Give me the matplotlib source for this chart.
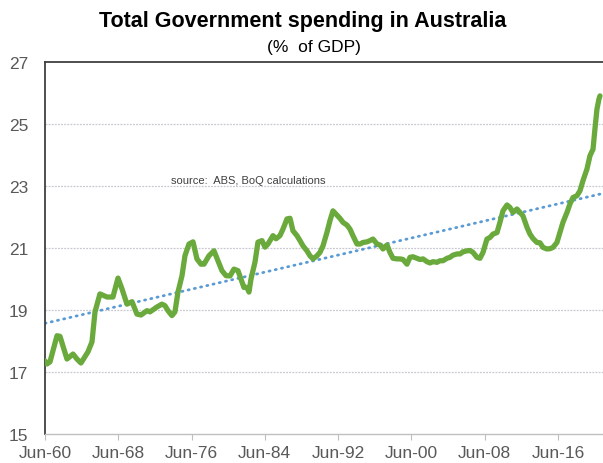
import matplotlib
matplotlib.use("Agg")
import matplotlib.pyplot as plt
import numpy as np

# Decimal year of each reading and total government spending (% of GDP)
years = [1960.50, 1960.72, 1961.05, 1961.81, 1962.14, 1962.90, 1963.56, 1963.99,
         1964.43, 1965.19, 1965.63, 1965.96, 1966.50, 1967.27, 1967.92, 1968.47,
         1968.91, 1969.45, 1970.00, 1970.54, 1970.98, 1971.64, 1971.96, 1972.73,
         1973.27, 1973.60, 1973.93, 1974.36, 1974.69, 1975.02, 1975.46, 1975.78,
         1976.22, 1976.66, 1977.09, 1977.53, 1977.86, 1978.40, 1978.95, 1979.39,
         1979.82, 1980.26, 1980.70, 1981.13, 1981.57, 1981.90, 1982.22, 1982.55,
         1982.77, 1982.99, 1983.43, 1983.75, 1984.19, 1984.52, 1984.84, 1985.39,
         1985.72, 1986.15, 1986.48, 1986.92, 1987.25, 1987.57, 1988.01, 1988.34,
         1988.67, 1989.10, 1989.43, 1989.76, 1990.19, 1990.52, 1990.85, 1991.29,
         1991.61, 1991.94, 1992.38, 1992.70, 1993.03, 1993.47, 1993.80, 1994.12,
         1994.56, 1994.89, 1995.22, 1995.65, 1995.98, 1996.31, 1996.75, 1997.07,
         1997.40, 1997.84, 1998.16, 1998.49, 1998.93, 1999.26, 1999.58, 2000.02,
         2000.35, 2000.67, 2001.11, 2001.44, 2001.77, 2002.20, 2002.53, 2002.86,
         2003.29, 2003.62, 2003.95, 2004.39, 2004.71, 2005.04, 2005.48, 2005.81,
         2006.14, 2006.57, 2006.90, 2007.23, 2007.66, 2007.99, 2008.32, 2008.75,
         2009.08, 2009.41, 2009.85, 2010.17, 2010.50, 2010.94, 2011.26, 2011.59,
         2012.03, 2012.36, 2012.68, 2013.12, 2013.45, 2013.77, 2014.21, 2014.54,
         2014.87, 2015.30, 2015.63, 2015.96, 2016.39, 2016.72, 2017.05, 2017.49,
         2017.81, 2018.14, 2018.58, 2018.91, 2019.23, 2019.67, 2020.00, 2020.33,
         2020.54, 2020.76, 2020.98, 2021.09]
spending = [17.36, 17.26, 17.33, 18.17, 18.15, 17.42, 17.58, 17.42,
            17.29, 17.65, 17.97, 18.94, 19.52, 19.42, 19.42, 20.03,
            19.68, 19.19, 19.27, 18.87, 18.84, 18.98, 18.94, 19.10,
            19.19, 19.14, 18.98, 18.82, 18.94, 19.58, 20.11, 20.75,
            21.13, 21.20, 20.65, 20.48, 20.48, 20.75, 20.91, 20.59,
            20.27, 20.11, 20.10, 20.32, 20.27, 20.00, 19.73, 19.73,
            19.58, 20.00, 20.55, 21.19, 21.24, 21.03, 21.13, 21.40,
            21.30, 21.40, 21.61, 21.94, 21.96, 21.56, 21.40, 21.24,
            21.07, 20.91, 20.75, 20.65, 20.75, 20.86, 21.07, 21.51,
            21.88, 22.20, 22.06, 21.96, 21.83, 21.74, 21.61, 21.40,
            21.13, 21.13, 21.18, 21.20, 21.24, 21.29, 21.13, 21.10,
            20.97, 21.10, 20.86, 20.67, 20.65, 20.65, 20.63, 20.48,
            20.70, 20.72, 20.67, 20.63, 20.65, 20.56, 20.52, 20.56,
            20.54, 20.59, 20.59, 20.67, 20.70, 20.77, 20.81, 20.81,
            20.88, 20.91, 20.92, 20.86, 20.70, 20.67, 20.86, 21.29,
            21.34, 21.45, 21.50, 21.83, 22.20, 22.39, 22.31, 22.15,
            22.26, 22.15, 22.04, 21.67, 21.45, 21.31, 21.18, 21.17,
            21.02, 20.97, 20.98, 21.02, 21.18, 21.50, 21.83, 22.15,
            22.42, 22.63, 22.69, 22.85, 23.17, 23.55, 23.98, 24.19,
            24.84, 25.48, 25.81, 25.91]

tick_years = [1960.5, 1968.5, 1976.5, 1984.5, 1992.5, 2000.5, 2008.5, 2016.5]
tick_labels = ["Jun-60", "Jun-68", "Jun-76", "Jun-84", "Jun-92", "Jun-00", "Jun-08", "Jun-16"]
y_ticks = [15, 17, 19, 21, 23, 25, 27]

plt.rcParams['font.family'] = ['Liberation Sans', 'DejaVu Sans']

fig = plt.figure(figsize=(6.03, 4.64), dpi=100)
ax = fig.add_axes([0.0746, 0.0625, 0.9254, 0.8015])

x = np.array(years)
y = np.array(spending)
coef = np.polyfit(x, y, 1)
xt = np.array([x[0], 2021.42])
ax.plot(xt, np.polyval(coef, xt), color="#5b9bd5", lw=2.0, linestyle=(0, (0.4, 1.9)),
        dash_capstyle="round", zorder=2)
ax.plot(x, y, color="#6aaa3c", lw=3.8, solid_capstyle="round", solid_joinstyle="round", zorder=3)

ax.set_xlim(1960.5, 2021.42)
ax.set_ylim(15, 27)
ax.set_yticks(y_ticks)
ax.set_xticks(tick_years)
ax.set_xticklabels(tick_labels)
ax.tick_params(axis="y", length=0, labelsize=12.5, labelcolor="#595959", pad=12)
ax.tick_params(axis="x", length=4, color="#bfbfbf", labelsize=12.5, labelcolor="#595959", pad=4)
for yy in [17, 19, 21, 23, 25]:
    ax.axhline(yy, color="#c8c8d0", lw=0.9, linestyle=(0, (1.5, 1)), zorder=1)

ax.spines["left"].set_color("#404040")
ax.spines["left"].set_linewidth(1.3)
ax.spines["top"].set_color("#404040")
ax.spines["top"].set_linewidth(1.3)
ax.spines["right"].set_visible(False)
ax.spines["bottom"].set_color("#bfbfbf")
ax.spines["bottom"].set_linewidth(1.0)

ax.text(1974.3, 23.2, "source:  ABS, BoQ calculations", fontsize=8, color="#404040",
        ha="left", va="center")

fig.text(0.502, 0.953, "Total Government spending in Australia", ha="center", va="center",
         fontsize=15.5, fontweight="bold", color="black")
fig.text(0.52, 0.897, "(%  of GDP)", ha="center", va="center", fontsize=12.5, color="black")

fig.savefig("out.png", dpi=100)
